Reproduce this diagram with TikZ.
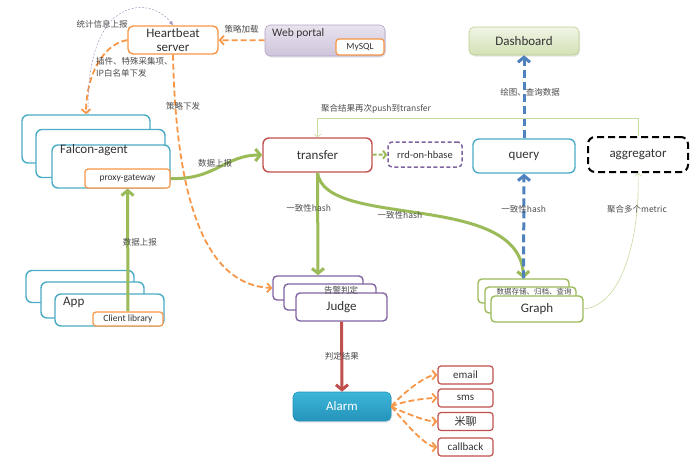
\documentclass[tikz,border=0pt]{standalone}
\usepackage{fontspec}
\setmainfont{Carlito}
\newfontfamily\cjk{Noto Sans CJK SC}
\usetikzlibrary{arrows.meta,positioning,shadows}

\definecolor{hborange}{HTML}{F79646}
\definecolor{aqua}{HTML}{4BACC6}
\definecolor{brick}{HTML}{C0504D}
\definecolor{violet}{HTML}{8064A2}
\definecolor{leaf}{HTML}{9BBB59}
\definecolor{paleleaf}{HTML}{C6DBA0}
\definecolor{steel}{HTML}{4F81BD}
\definecolor{alarmtop}{HTML}{3CB6DA}
\definecolor{alarmbot}{HTML}{2593BA}

\tikzstyle{base} = [rectangle, rounded corners=3pt, inner sep=0pt, text=black!80, fill=white]
\tikzstyle{main} = [base, rounded corners=6pt, line width=1.4pt, font=\fontsize{13}{14}\selectfont]
\tikzstyle{small} = [base, line width=1.2pt, draw=hborange, font=\fontsize{9.5}{11}\selectfont]
\tikzstyle{agent} = [main, draw=aqua]
\tikzstyle{judgebox} = [main, rounded corners=4pt, draw=violet]
\tikzstyle{graphbox} = [main, rounded corners=4pt, draw=leaf]
\tikzstyle{sendbox} = [base, line width=1.2pt, draw=brick, minimum width=55pt, minimum height=18pt, font=\fontsize{11}{12}\selectfont]
\tikzstyle{lbl} = [font=\cjk\fontsize{8.5}{12}\selectfont, text=black!70, inner sep=0pt]
\tikzstyle{bigarrow} = [line width=3pt, draw=leaf, -{Straight Barb[length=5pt, width=12pt]}]
\tikzstyle{ctrl} = [line width=1.8pt, draw=hborange, dash pattern=on 6pt off 3pt, -{Straight Barb[length=4pt, width=9pt]}]
\tikzstyle{qarrow} = [line width=3pt, draw=steel, dash pattern=on 8pt off 4pt, -{Straight Barb[length=5pt, width=12pt]}]
\tikzstyle{thinarrow} = [line width=0.6pt, draw=paleleaf, -{Straight Barb[length=3pt, width=7pt]}]

\begin{document}
\begin{tikzpicture}[x=1pt, y=-1pt]
    \useasboundingbox (0,0) rectangle (692,463);

    % heartbeat and portal
    \node(hb)[main, rounded corners=5pt, draw=hborange, minimum width=90pt, minimum height=28pt, align=center] at (173,40) {Heartbeat\\server};
    \node(portal)[base, rounded corners=5pt, draw=violet!60, line width=0.6pt, top color=violet!18, bottom color=violet!38, minimum width=120pt, minimum height=31pt, drop shadow={opacity=0.2, shadow xshift=1pt, shadow yshift=-1.5pt}] at (325,40.5) {};
    \node(portal_txt)[anchor=west, inner sep=0pt, font=\fontsize{11.5}{13}\selectfont, text=black!80] at (272,33.5) {Web portal};
    \node(mysql)[small, minimum width=48pt, minimum height=16pt] at (360,47) {MySQL};

    % agents
    \node(agent1)[agent, minimum width=128pt, minimum height=48pt] at (86,139) {};
    \node(agent2)[agent, minimum width=129pt, minimum height=48pt] at (100.5,153.5) {};
    \node(agent3)[agent, minimum width=118pt, minimum height=43pt] at (111,166.5) {};
    \node(agent_txt)[anchor=west, inner sep=0pt, font=\fontsize{13}{14}\selectfont, text=black!80] at (60,150) {Falcon-agent};
    \node(proxy)[small, minimum width=85pt, minimum height=19pt] at (127.5,178.5) {proxy-gateway};

    % apps
    \node(app1)[agent, minimum width=108pt, minimum height=32pt] at (80,286.5) {};
    \node(app2)[agent, minimum width=103pt, minimum height=36pt] at (92.5,300) {};
    \node(app3)[agent, minimum width=109pt, minimum height=32pt] at (109.5,310) {};
    \node(app_txt)[anchor=west, inner sep=0pt, font=\fontsize{13}{14}\selectfont, text=black!80] at (63,302) {App};
    \node(client)[small, minimum width=70pt, minimum height=14pt] at (128,319) {Client library};

    % middle row
    \node(transfer)[main, draw=brick, minimum width=109pt, minimum height=34pt] at (317.5,155) {transfer};
    \node(rrd)[base, rounded corners=4pt, draw=violet, line width=1.5pt, dash pattern=on 4pt off 2.5pt, minimum width=74pt, minimum height=25pt, font=\fontsize{10.5}{12}\selectfont] at (425,154.5) {rrd-on-hbase};
    \node(query)[main, draw=aqua, minimum width=102pt, minimum height=34pt] at (524,156) {query};
    \node(aggr)[main, draw=black, line width=2pt, dash pattern=on 7pt off 4pt, rounded corners=7pt, minimum width=100pt, minimum height=35pt] at (638,154.5) {aggregator};
    \node(dash)[base, rounded corners=5pt, draw=leaf!70, line width=0.6pt, top color=leaf!15, bottom color=leaf!45, minimum width=110pt, minimum height=28pt, font=\fontsize{13}{14}\selectfont, drop shadow={opacity=0.2, shadow xshift=1pt, shadow yshift=-1.5pt}] at (524,41) {Dashboard};

    % judges and graphs
    \node(judge1)[judgebox, minimum width=90pt, minimum height=24pt] at (318,288) {};
    \node(judge2)[judgebox, minimum width=92pt, minimum height=26pt] at (330,297) {};
    \node(judge3)[judgebox, minimum width=91pt, minimum height=28pt] at (341.5,307) {Judge};
    \node(judge_txt)[lbl] at (341,290) {告警判定};
    \node(graph1)[graphbox, minimum width=91pt, minimum height=24pt] at (523.5,291) {};
    \node(graph2)[graphbox, minimum width=91pt, minimum height=26pt] at (530.5,300) {};
    \node(graph3)[graphbox, minimum width=92pt, minimum height=26pt] at (537,309) {Graph};
    \node(graph_txt)[lbl, font=\cjk\fontsize{7.5}{9}\selectfont] at (534,292) {数据存储、归档、查询};

    % alarm
    \node(alarm)[base, rounded corners=5pt, draw=alarmbot, line width=0.6pt, top color=alarmtop, bottom color=alarmbot, minimum width=98pt, minimum height=29pt, text=white, font=\fontsize{13}{14}\selectfont, drop shadow={opacity=0.2, shadow xshift=1pt, shadow yshift=-1.5pt}] at (342,406.5) {Alarm};
    \foreach \name/\txt/\y in {email/email/375, sms/sms/398, miliao/{\cjk 米聊}/421.5, callback/callback/447}
        \node(\name)[sendbox] at (465.5,\y) {\txt};

    % heartbeat links
    \draw[ctrl] (portal) -- (hb) node[midway, lbl, yshift=11pt] {策略加载};
    \draw[ctrl] (hb.west) .. controls (100,45) and (86,80) .. (agent1.north);
    \node(plugin_txt)[lbl, anchor=north west, align=left] at (96,57) {插件、特殊采集项、\\IP白名单下发};
    \draw[line width=0.5pt, draw=violet!70, dash pattern=on 2pt off 1.5pt, -{Latex[length=4pt, width=4pt]}] (agent1.85) .. controls (85,-5) and (150,-5) .. (hb.north);
    \node(stat_txt)[lbl] at (102,24) {统计信息上报};
    \draw[ctrl] (hb.south) .. controls (176,200) and (205,285) .. (judge1.west);
    \node(policy_txt)[lbl] at (183,106) {策略下发};

    % data flow
    \draw[bigarrow] (client) -- (proxy) node[midway, lbl, xshift=12pt, yshift=8pt] {数据上报};
    \draw[bigarrow] (proxy.east) .. controls (215,180) and (225,155) .. (transfer.west);
    \node(push_txt)[lbl] at (215,163) {数据上报};
    \draw[line width=2pt, draw=leaf, dash pattern=on 4pt off 2pt, -{Straight Barb[length=3pt, width=8pt]}] (transfer) -- (rrd);
    \draw[bigarrow] (transfer.south) -- (judge1.north) node[midway, lbl, xshift=-9pt, yshift=16pt] {一致性hash};
    \draw[bigarrow] (transfer.south) .. controls (325,230) and (520,190) .. (graph1.north);
    \node(hash_txt)[lbl] at (400,215) {一致性hash};
    \draw[qarrow] (graph1.north) -- (query.south) node[midway, lbl, yshift=17pt] {一致性hash};
    \draw[qarrow] (query.north) -- (dash.south) node[midway, lbl, xshift=6pt, yshift=5pt] {绘图、查询数据};
    \draw[thinarrow] (graph3.east) .. controls (625,305) and (640,230) .. (aggr.south);
    \node(metric_txt)[lbl] at (637,209) {聚合多个metric};
    \draw[thinarrow] (aggr.north) -- ++(0,-18) -| (transfer.north);
    \node(again_txt)[lbl] at (376,109) {聚合结果再次push到transfer};

    % alarm
    \draw[line width=3pt, draw=brick, -{Straight Barb[length=5pt, width=12pt]}] (judge3.south) -- (alarm.north) node[midway, lbl] {判定结果};
    \foreach \name/\dy in {email/-12, sms/-5, miliao/5, callback/12}
        \draw[ctrl] (alarm.east) .. controls +(10,\dy) and +(-12,0) .. (\name.west);
\end{tikzpicture}
\end{document}
